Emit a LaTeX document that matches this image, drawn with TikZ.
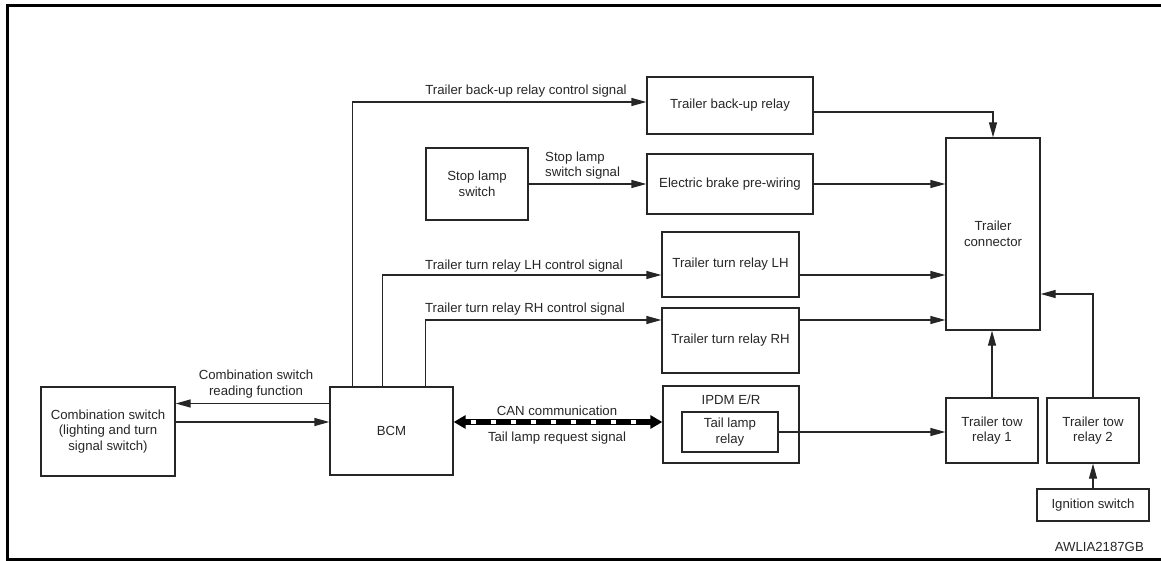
\documentclass[tikz,border=0pt]{standalone}
\usepackage{fontspec}
\setmainfont{Liberation Sans}
\usetikzlibrary{arrows.meta}
\definecolor{ln}{HTML}{262626}
\tikzset{
  x=1pt, y=-1pt,
  box/.style={draw=ln, line width=1.3pt, rectangle, inner sep=0pt, align=center,
    font=\fontsize{13.2}{15.5}\selectfont, text=ln},
  lbl/.style={font=\fontsize{13.2}{15.5}\selectfont, text=ln, inner sep=0pt, align=center},
  arr/.style={draw=ln, line width=1.3pt, -{Triangle[length=15pt 0 0,width=8pt 0 0]}},
}
\begin{document}
\begin{tikzpicture}
\useasboundingbox (0,0) rectangle (1161,561);
% frame
\draw[line width=3pt, black] (1161,5.5) -- (7.5,5.5) -- (7.5,559.5) -- (1161,559.5);

% boxes
\node[box, minimum width=134pt, minimum height=89pt] (combo) at (108,431.5)
  {Combination switch\\(lighting and turn\\signal switch)};
\node[box, minimum width=123pt, minimum height=88pt] (bcm) at (391.5,431) {BCM};
\node[box, minimum width=166pt, minimum height=57pt] (backup) at (730,105.5) {Trailer back-up relay};
\node[box, minimum width=102pt, minimum height=72pt] (stop) at (477,184) {Stop lamp\\switch};
\node[box, minimum width=166pt, minimum height=60pt] (ebrake) at (730,184) {Electric brake pre-wiring};
\node[box, minimum width=137pt, minimum height=65pt] (lh) at (730.5,264.5) {Trailer turn relay LH};
\node[box, minimum width=137pt, minimum height=65pt] (rh) at (730.5,340.5) {Trailer turn relay RH};
\node[box, minimum width=136pt, minimum height=77pt] (ipdm) at (731,424.5) {};
\node[lbl] (ipdmt) at (731,400) {IPDM E/R};
\node[box, minimum width=96pt, minimum height=40pt] (tail) at (730,432) {Tail lamp\\relay};
\node[box, minimum width=94pt, minimum height=192pt] (conn) at (993,234) {Trailer\\connector};
\node[box, minimum width=92pt, minimum height=65pt] (tow1) at (992,430.5) {Trailer tow\\relay 1};
\node[box, minimum width=92pt, minimum height=65pt] (tow2) at (1093,430.5) {Trailer tow\\relay 2};
\node[box, minimum width=112pt, minimum height=32pt] (ign) at (1093,505) {Ignition switch};

% labels
\node[lbl] (l1) at (526,91) {Trailer back-up relay control signal};
\node[lbl, anchor=west, align=left] (l2) at (545,165.5) {Stop lamp\\switch signal};
\node[lbl] (l3) at (524,266) {Trailer turn relay LH control signal};
\node[lbl] (l4) at (525,309) {Trailer turn relay RH control signal};
\node[lbl] (l5) at (256,384) {Combination switch\\reading function};
\node[lbl] (l6) at (557,411) {CAN communication};
\node[lbl] (l7) at (557,438) {Tail lamp request signal};
\node[lbl, anchor=east] (code) at (1144,547) {AWLIA2187GB};

% connectors from BCM
\draw[arr] ([xshift=23pt]bcm.north west) |- ([yshift=3.5pt]backup.west);
\draw[arr] ([xshift=53pt]bcm.north west) |- ([yshift=-10.5pt]lh.west);
\draw[arr] ([xshift=96pt]bcm.north west) |- ([yshift=20.5pt]rh.west);
\draw[arr] (stop.east) -- (stop.east -| ebrake.west);
\draw[arr] ([yshift=27.5pt]bcm.west) -- ([yshift=27.5pt]bcm.west -| combo.east);
\draw[arr] ([yshift=9.5pt]combo.east) -- ([yshift=9.5pt]combo.east -| bcm.west);

% CAN
\draw[line width=5.5pt, black, {Triangle[length=12pt 0 0,width=13pt 0 0]}-{Triangle[length=12pt 0 0,width=13pt 0 0]}]
  ([yshift=9pt]bcm.east) -- ([yshift=9pt]bcm.east -| ipdm.west);
\draw[line width=3.2pt, white, dash pattern=on 5pt off 15pt, dash phase=-4pt, shorten <=13pt, shorten >=13pt]
  ([yshift=9pt]bcm.east) -- ([yshift=9pt]bcm.east -| ipdm.west);

% to trailer connector
\draw[arr] ([yshift=-6.5pt]backup.east) -| (conn.north);
\draw[arr] (ebrake.east) -- (ebrake.east -| conn.west);
\draw[arr] ([yshift=-10.5pt]lh.east) -- ([yshift=-10.5pt]lh.east -| conn.west);
\draw[arr] ([yshift=20.5pt]rh.east) -- ([yshift=20.5pt]rh.east -| conn.west);
\draw[arr] (tail.east) -- (tail.east -| tow1.west);
\draw[arr] (tow1.north) -- (tow1.north |- conn.south);
\draw[arr] (tow2.north) |- ([yshift=-60pt]conn.east);
\draw[arr] (ign.north) -- (ign.north |- tow2.south);
\end{tikzpicture}
\end{document}
